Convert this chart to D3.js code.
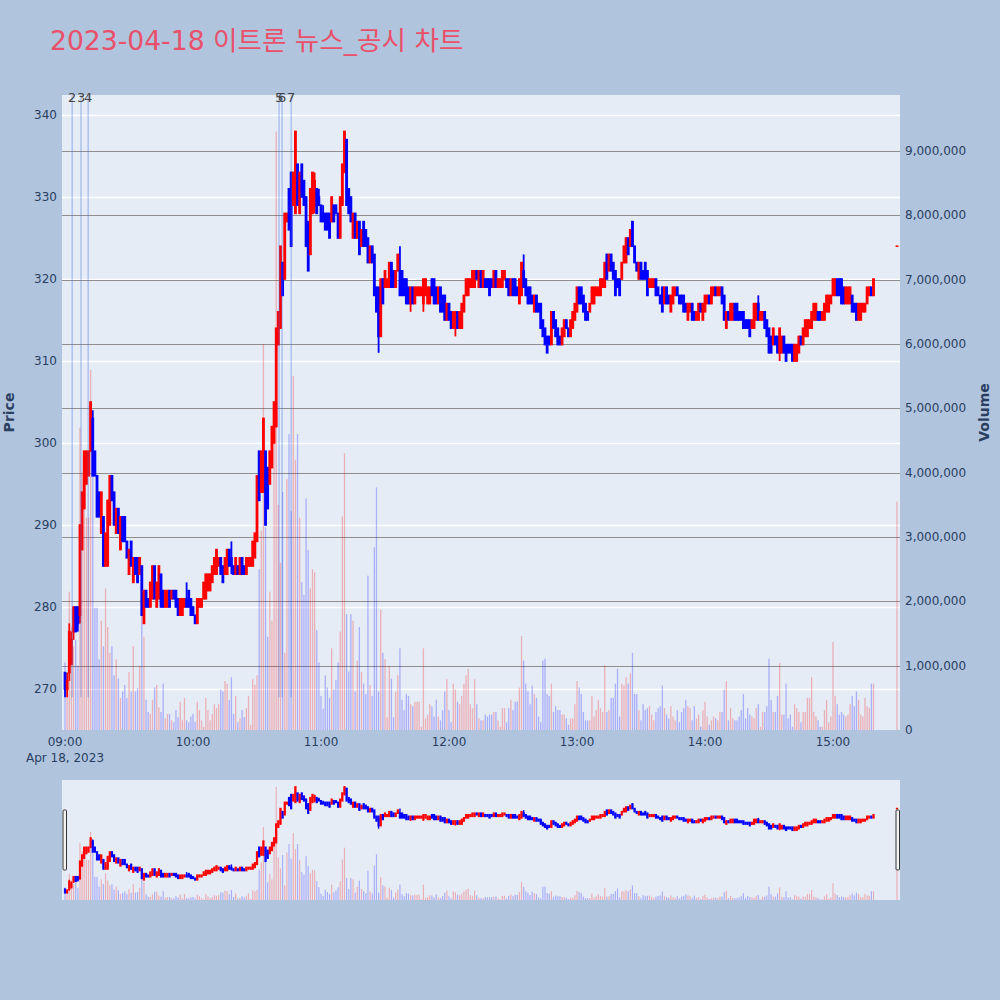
<!DOCTYPE html>
<html><head><meta charset="utf-8">
<script src="https://cdn.jsdelivr.net/npm/d3@7"></script>
<style>html,body{margin:0;padding:0;background:#B0C4DE;}svg{display:block;}</style>
</head><body>
<svg id="chart" width="1000" height="1000"></svg>
<script>
// ---------------- DATA ----------------
const chartTitle = "2023-04-18 이트론 뉴스_공시 차트";
const tradeDate = "2023-04-18";
const sessionOpen = "09:00:00";      // first 1-minute candle
const minuteCandles = 380;           // 09:00 .. 15:19
const closingAuction = "15:30:00";   // last (closing auction) candle

const opens = [
272,270,272,273,277,280,280,279,287,292,295,296,299,303,299,296,294,289,291,285,285,290,296,294,289,292,287,291,291,288,284,288,283,286,286,284,285,278,
282,281,280,281,285,280,281,284,282,280,280,282,281,282,282,281,279,279,280,281,282,281,280,279,278,280,280,281,281,282,282,283,284,284,285,286,285,284,284,
287,286,285,284,285,284,286,285,284,285,285,285,286,288,299,294,294,299,297,295,297,300,302,312,314,322,320,327,331,333,329,328,334,328,334,332,330,327,323,328,
329,331,330,329,328,328,328,328,327,329,329,328,325,329,333,337,331,330,325,328,325,327,324,327,326,325,322,324,323,319,319,313,320,319,319,319,322,321,319,321,
321,321,320,320,319,317,319,317,318,318,318,317,318,317,317,320,320,319,317,319,318,318,315,317,316,314,314,316,314,314,316,318,318,319,319,319,321,319,321,
319,320,320,320,320,319,321,319,319,319,320,320,320,318,320,320,319,317,318,321,320,319,319,318,316,318,317,317,315,314,313,313,312,316,315,314,313,312,313,315,
314,313,314,315,316,319,319,318,317,316,316,317,317,318,318,318,319,319,323,321,323,322,321,320,320,320,322,322,325,324,327,324,322,320,322,321,322,321,319,319,
319,320,319,318,319,317,319,318,316,317,318,319,318,318,318,317,315,316,317,316,315,315,317,315,316,317,318,317,318,319,318,318,319,318,314,316,315,315,317,
317,316,316,316,315,315,315,314,314,315,317,315,315,316,315,314,313,312,313,313,311,311,313,312,312,312,312,310,310,311,313,312,313,313,314,314,315,315,316,316,
315,315,316,316,317,318,318,320,320,320,319,317,317,317,318,317,317,315,315,316,316,317,318,319,318,324];
const highs = [
272,272,278,277,280,280,280,290,294,299,299,299,305,304,299,296,294,294,291,289,293,296,296,294,292,292,291,291,291,288,287,288,286,286,286,286,285,282,
282,281,283,285,285,283,285,284,282,282,282,282,282,282,282,281,281,281,281,283,282,281,280,279,281,281,281,283,284,284,284,285,286,287,286,286,285,286,287,
287,288,285,286,285,286,286,285,286,286,286,288,289,296,299,299,303,299,297,299,302,305,314,316,324,322,328,328,331,333,333,338,334,333,334,332,330,327,331,333,
333,331,331,329,329,328,328,328,330,329,329,328,330,334,338,337,331,330,328,328,327,327,326,327,326,325,324,324,323,319,319,320,320,321,320,322,322,321,321,323,
324,321,320,320,319,319,319,319,319,319,319,320,320,319,319,320,320,319,319,319,318,318,317,317,316,316,316,316,316,317,318,320,320,320,321,321,321,321,321,
321,320,320,320,320,321,321,320,320,321,321,320,320,320,320,320,319,320,322,323,320,319,319,318,318,318,317,317,315,314,313,313,316,316,315,314,313,314,315,315,
314,315,316,317,319,319,319,318,317,316,317,319,319,319,319,320,320,322,323,323,323,322,321,320,320,322,324,325,325,326,327,324,322,322,322,321,322,321,320,320,
320,320,319,318,319,319,319,318,318,319,319,319,318,318,318,317,317,317,317,316,316,317,317,317,318,318,318,319,319,319,319,319,319,318,316,316,317,317,317,
317,316,316,316,315,315,315,315,317,317,318,316,316,316,315,314,313,314,313,313,314,313,313,312,312,312,312,312,312,313,313,314,315,315,315,316,317,317,316,316,
316,317,318,318,318,320,320,320,320,320,319,319,319,319,318,317,317,317,317,317,317,319,319,319,320,324];
const lows = [
269,269,271,273,276,277,277,278,287,292,295,296,299,296,296,291,291,289,285,285,285,290,293,290,289,289,287,288,288,286,284,285,283,284,283,284,279,278,
280,280,280,281,281,280,281,280,280,280,280,280,281,281,280,279,279,279,280,280,280,279,279,278,278,280,280,281,281,282,282,283,284,284,285,284,283,284,284,
285,284,284,284,284,284,284,284,284,285,285,285,286,288,293,294,294,290,292,295,297,300,302,312,314,318,320,327,326,324,329,328,329,328,330,329,324,321,323,328,
328,328,329,327,327,326,326,325,327,327,328,325,325,329,333,329,328,327,325,325,325,323,324,324,324,322,322,322,318,316,311,313,317,319,319,319,319,319,319,321,
318,318,318,317,317,316,317,317,318,318,318,316,318,317,317,318,317,317,317,316,316,315,315,315,314,314,313,314,314,314,316,318,318,319,319,319,320,319,319,
319,319,319,318,319,319,319,319,319,319,320,319,318,318,318,318,318,317,318,319,318,317,317,317,316,316,316,314,313,312,311,312,312,314,313,312,312,312,313,314,
313,313,314,315,316,317,317,316,315,315,316,317,317,318,318,318,319,319,320,321,321,320,318,319,318,320,322,322,323,324,324,322,321,320,320,320,320,318,319,319,
319,318,318,317,316,317,317,317,316,317,318,318,317,317,316,316,315,316,315,315,315,315,316,315,316,317,317,317,318,318,318,318,317,315,314,315,315,315,315,
315,315,315,314,314,314,313,314,314,315,315,315,315,314,313,311,311,312,312,311,310,311,311,310,311,311,310,310,310,311,312,312,313,313,314,314,315,315,315,315,
315,315,316,316,317,318,318,318,318,317,317,317,317,317,316,316,315,315,315,316,316,317,318,318,318,324];
const closes = [
270,271,277,276,280,277,278,290,294,299,299,299,305,296,296,291,291,294,285,289,293,296,293,290,292,289,291,288,288,286,287,285,286,284,283,286,279,282,
280,280,283,285,281,283,285,280,280,282,282,280,282,281,280,279,281,281,281,280,280,279,279,278,281,281,281,283,284,284,284,285,286,287,286,284,283,286,287,
285,285,284,286,284,286,284,284,286,286,286,288,289,296,293,299,303,290,292,299,302,305,314,316,324,318,328,328,326,324,333,338,329,333,330,329,324,321,331,333,
332,328,329,327,327,326,326,325,330,327,328,325,330,334,338,329,328,327,328,325,327,323,326,324,324,322,324,322,318,316,313,320,317,321,320,322,319,319,321,323,
318,318,318,317,317,319,317,319,319,319,319,320,320,319,319,318,317,317,319,316,316,315,317,315,314,316,316,314,316,317,318,320,320,320,321,321,320,321,319,
321,319,319,318,319,321,319,320,320,321,321,319,318,320,318,318,318,320,322,319,318,317,317,317,318,316,316,314,313,312,311,312,316,314,313,312,312,314,315,314,
313,315,316,317,319,317,317,316,315,315,317,319,319,319,319,320,320,322,320,323,321,320,318,319,318,322,324,325,323,326,324,322,321,322,320,320,320,318,320,320,
320,318,318,317,316,319,317,317,318,319,319,318,317,317,316,316,317,317,315,315,316,317,316,317,318,318,317,319,319,318,319,319,317,315,316,315,317,317,315,
315,315,315,314,314,314,313,315,317,317,315,316,316,314,313,311,311,314,312,311,314,313,311,310,311,311,310,312,312,313,312,314,315,315,315,316,317,317,315,315,
316,317,318,318,318,320,320,318,318,317,317,319,319,319,316,316,315,317,317,317,317,319,319,318,320,324];
// traded volume, in thousands of shares
const volumeThousands = [
1050,800,2150,1600,1300,1400,1000,4700,4000,4200,3300,3300,5600,4300,1900,1900,1100,1700,1300,2200,1600,1200,1300,850,1100,800,500,600,700,500,900,600,1300,600,650,1000,1950,1450,
470,280,250,470,660,700,350,280,720,180,250,250,150,120,310,200,440,150,500,150,120,210,250,130,440,310,150,50,500,310,150,250,400,340,400,630,600,760,720,
470,820,250,530,120,180,310,200,340,530,80,790,700,850,2500,3100,6000,3150,1450,2150,1700,4600,9300,3500,2600,3700,1200,3900,4600,3400,5500,4200,4600,3300,2300,2100,3600,2800,2200,2500,
2450,1550,1050,530,330,850,660,500,1270,630,780,1050,1530,3320,4300,1800,910,1800,1700,600,1080,1600,900,720,560,2400,700,530,2840,3770,600,1870,1200,1100,200,1000,800,200,600,850,
1270,470,310,560,530,400,370,440,440,440,50,1270,180,240,400,370,210,470,210,150,310,600,790,310,120,720,630,440,400,530,720,850,950,400,340,790,400,180,150,
150,240,210,240,240,280,280,150,50,340,340,120,340,470,310,440,440,660,1460,1080,720,600,400,690,560,500,210,120,1080,1110,560,530,720,280,370,310,310,240,240,180,
80,180,180,400,760,660,560,280,150,150,150,530,210,310,470,340,280,1010,280,310,500,500,720,950,210,720,690,820,720,880,1200,560,560,310,150,400,310,340,370,240,
150,280,340,370,690,340,240,180,370,210,150,310,120,280,340,470,370,340,150,370,180,240,50,310,440,210,80,150,210,180,150,280,280,630,760,150,340,180,150,
150,210,310,560,180,340,240,210,180,340,400,50,280,280,370,1110,470,280,280,530,1040,240,240,720,180,240,50,400,340,280,120,280,280,500,500,820,280,210,150,50,
50,310,470,120,210,1370,530,400,240,280,240,210,240,400,530,370,600,470,240,210,500,370,340,720,720,3550];

// news / disclosure markers
const newsLabels = ["2","3","4","5","6","7"];
const newsTimes  = ["09:03:20","09:07:30","09:10:50","10:40:20","10:41:45","10:46:00"];

const priceTicks  = [270,280,290,300,310,320,330,340];
const volumeTicks = [0,1e6,2e6,3e6,4e6,5e6,6e6,7e6,8e6,9e6];
const hourTicks   = ["09:00","10:00","11:00","12:00","13:00","14:00","15:00"];
const dateLabel   = "Apr 18, 2023";

// ---------------- BUILD ----------------
const parseT = d3.timeParse("%Y-%m-%d %H:%M:%S");
const t0 = parseT(tradeDate + " " + sessionOpen);
const tClose = parseT(tradeDate + " " + closingAuction);
const times = d3.range(minuteCandles).map(i => d3.timeMinute.offset(t0, i)).concat([tClose]);
const n = times.length;
const rows = d3.range(n).map(i => ({
  t: times[i], o: opens[i], h: highs[i], l: lows[i], c: closes[i],
  v: volumeThousands[i] * 1000, up: closes[i] >= opens[i]
}));

const UP = "#ff0000", DOWN = "#0000ff";
const FONT = "'DejaVu Sans', 'Noto Sans CJK KR', sans-serif";
const TXT = "#2a3f5f";

const P = {l: 62, r: 900, t: 95, b: 730};
const RS = {t: 780, b: 900};

const x = d3.scaleTime()
  .domain([d3.timeSecond.offset(t0, -85), d3.timeSecond.offset(tClose, 85)])
  .range([P.l, P.r]);
const yP = d3.scaleLinear().domain([265, 342.44]).range([P.b, P.t]);
const yV = d3.scaleLinear().domain([0, 9.87e6]).range([P.b, P.t]);
const yPs = yP.copy().range([RS.b, RS.t]);
const yVs = yV.copy().range([RS.b, RS.t]);

const svg = d3.select("#chart");
svg.append("rect").attr("width", 1000).attr("height", 1000).attr("fill", "#B0C4DE");

// title
svg.append("text").attr("x", 50).attr("y", 50)
  .attr("font-family", FONT).attr("font-size", 26.6).attr("fill", "#e9506a")
  .text(chartTitle);

// plot background
svg.append("rect").attr("x", P.l).attr("y", P.t).attr("width", P.r - P.l).attr("height", P.b - P.t)
  .attr("fill", "#E5ECF6");

const defs = svg.append("defs");
defs.append("clipPath").attr("id", "clipMain").append("rect")
  .attr("x", P.l).attr("y", P.t).attr("width", P.r - P.l).attr("height", P.b - P.t);
defs.append("clipPath").attr("id", "clipSlider").append("rect")
  .attr("x", P.l).attr("y", RS.t).attr("width", P.r - P.l).attr("height", RS.b - RS.t);

// price grid (white)
svg.append("g").selectAll("line").data(priceTicks).join("line")
  .attr("x1", P.l).attr("x2", P.r)
  .attr("y1", d => Math.round(yP(d)) + 0.5).attr("y2", d => Math.round(yP(d)) + 0.5)
  .attr("stroke", "#ffffff").attr("stroke-width", 1.5);
// volume grid (grey)
svg.append("g").selectAll("line").data(volumeTicks.filter(d => d > 0)).join("line")
  .attr("x1", P.l).attr("x2", P.r)
  .attr("y1", d => Math.round(yV(d)) + 0.5).attr("y2", d => Math.round(yV(d)) + 0.5)
  .attr("stroke", "#8f8f8f").attr("stroke-width", 1.2);

function drawSeries(g, ys, yvs, bodyW, volW, wickW) {
  g.append("g").selectAll("rect").data(rows).join("rect")
    .attr("x", d => x(d.t) - volW / 2).attr("width", volW)
    .attr("y", d => yvs(d.v)).attr("height", d => yvs(0) - yvs(d.v))
    .attr("fill", d => d.up ? UP : DOWN).attr("fill-opacity", 0.26);
  const cg = g.append("g");
  cg.selectAll("line").data(rows).join("line")
    .attr("x1", d => x(d.t)).attr("x2", d => x(d.t))
    .attr("y1", d => ys(d.h)).attr("y2", d => ys(d.l))
    .attr("stroke", d => d.up ? UP : DOWN).attr("stroke-width", wickW);
  cg.selectAll("rect").data(rows).join("rect")
    .attr("x", d => x(d.t) - bodyW / 2).attr("width", bodyW)
    .attr("y", d => ys(Math.max(d.o, d.c)) - 0.8)
    .attr("height", d => Math.abs(ys(d.o) - ys(d.c)) + 1.6)
    .attr("fill", d => d.up ? UP : DOWN);
}

drawSeries(svg.append("g").attr("clip-path", "url(#clipMain)"), yP, yV, 2.8, 1.3, 1.8);

// news markers
const newsG = svg.append("g");
newsTimes.forEach((s, i) => {
  const xx = x(parseT(tradeDate + " " + s));
  newsG.append("line").attr("x1", xx).attr("x2", xx)
    .attr("y1", P.t).attr("y2", yP(269))
    .attr("stroke", "rgba(65,105,225,0.5)").attr("stroke-width", 1);
  newsG.append("text").attr("x", xx).attr("y", 102)
    .attr("text-anchor", "middle").attr("font-family", FONT).attr("font-size", 13)
    .attr("fill", "#444").text(newsLabels[i]);
});

// left axis labels
svg.append("g").selectAll("text").data(priceTicks).join("text")
  .attr("x", 57).attr("y", d => yP(d) + 4)
  .attr("text-anchor", "end").attr("font-family", FONT).attr("font-size", 12)
  .attr("fill", TXT).text(d => d);
// right axis labels
const fmt = d3.format(",");
svg.append("g").selectAll("text").data(volumeTicks).join("text")
  .attr("x", 905).attr("y", d => yV(d) + 4)
  .attr("text-anchor", "start").attr("font-family", FONT).attr("font-size", 12)
  .attr("fill", TXT).text(d => fmt(d));
// x axis labels
const parseH = d3.timeParse("%Y-%m-%d %H:%M");
svg.append("g").selectAll("text").data(hourTicks).join("text")
  .attr("x", d => x(parseH(tradeDate + " " + d))).attr("y", 746)
  .attr("text-anchor", "middle").attr("font-family", FONT).attr("font-size", 12)
  .attr("fill", TXT).text(d => d);
svg.append("text").attr("x", x(t0)).attr("y", 762)
  .attr("text-anchor", "middle").attr("font-family", FONT).attr("font-size", 12)
  .attr("fill", TXT).text(dateLabel);

// axis titles
svg.append("text").attr("transform", `translate(14,${(P.t + P.b) / 2}) rotate(-90)`)
  .attr("text-anchor", "middle").attr("font-family", FONT).attr("font-size", 14)
  .attr("font-weight", "bold").attr("fill", TXT).text("Price");
svg.append("text").attr("transform", `translate(989,${(P.t + P.b) / 2}) rotate(-90)`)
  .attr("text-anchor", "middle").attr("font-family", FONT).attr("font-size", 14)
  .attr("font-weight", "bold").attr("fill", TXT).text("Volume");

// range slider
svg.append("rect").attr("x", P.l).attr("y", RS.t).attr("width", P.r - P.l).attr("height", RS.b - RS.t)
  .attr("fill", "#E5ECF6");
drawSeries(svg.append("g").attr("clip-path", "url(#clipSlider)"), yPs, yVs, 2.2, 1.2, 1.4);
[P.l + 1, P.r - 4].forEach(hx => {
  svg.append("rect").attr("x", hx).attr("y", 810).attr("width", 3.5).attr("height", 60)
    .attr("rx", 1).attr("fill", "#f4f4f4").attr("stroke", "#333").attr("stroke-width", 1);
});
</script>
</body></html>
